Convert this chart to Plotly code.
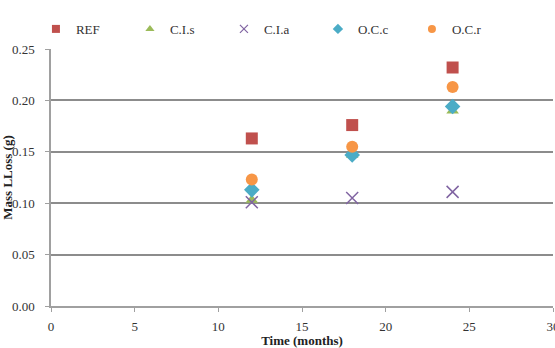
import plotly.graph_objects as go

months = [12, 18, 24]
ref = [0.163, 0.176, 0.232]
cis = [0.103, 0.147, 0.190]
cia = [0.101, 0.105, 0.111]
occ = [0.113, 0.147, 0.194]
ocr = [0.123, 0.155, 0.213]

series = [
    ("REF", ref, "square", "#C0504D", 12),
    ("C.I.s", cis, "triangle-up", "#9BBB59", 11),
    ("C.I.a", cia, "x-thin-open", "#8064A2", 12),
    ("O.C.c", occ, "diamond", "#4BACC6", 12),
    ("O.C.r", ocr, "circle", "#F79646", 12),
]

fig = go.Figure()
for name, vals, sym, col, sz in series:
    marker = dict(symbol=sym, color=col, size=sz)
    if sym == "x-thin-open":
        marker["line"] = dict(color=col, width=1.5)
    fig.add_trace(go.Scatter(x=months, y=vals, mode="markers", name=name,
                             marker=marker, showlegend=False, legendgroup=name))
# small legend keys
for name, vals, sym, col, sz in series:
    marker = dict(symbol=sym, color=col, size=8)
    if sym == "x-thin-open":
        marker["line"] = dict(color=col, width=1.2)
    fig.add_trace(go.Scatter(x=[None], y=[None], mode="markers", name=name,
                             marker=marker, showlegend=True, legendgroup=name))

font = "Liberation Serif, Times New Roman, serif"
fig.update_layout(
    width=555, height=348,
    margin=dict(l=51, r=2, t=49, b=42, autoexpand=False),
    paper_bgcolor="white", plot_bgcolor="white",
    font=dict(family=font, size=13, color="#333333"),
    showlegend=True,
    legend=dict(orientation="h", x=-0.03, xanchor="left", y=1.078, yanchor="middle",
                entrywidth=49, entrywidthmode="pixels",
                font=dict(family=font, size=13, color="#333333"),
                itemwidth=30, bgcolor="rgba(0,0,0,0)"),
    xaxis=dict(range=[0, 30], tickvals=[0, 5, 10, 15, 20, 25, 30], automargin=False,
               showgrid=False, zeroline=False, showline=True, linecolor="#A0A0A0", linewidth=1.5,
               ticks="outside", ticklen=4, tickcolor="#A0A0A0", ticklabeloverflow="allow",
               ticklabelstandoff=4,
               tickfont=dict(family=font, size=13, color="#333333"),
               title=dict(text="<b>Time (months)</b>", font=dict(family=font, size=13, color="#222222"), standoff=2)),
    yaxis=dict(range=[0, 0.25], tickvals=[0, 0.05, 0.10, 0.15, 0.20, 0.25], tickformat=".2f",
               automargin=False,
               showgrid=True, gridcolor="#8C8C8C", gridwidth=1.5, zeroline=False,
               showline=True, linecolor="#A0A0A0", linewidth=1.5,
               ticks="outside", ticklen=4, tickcolor="#A0A0A0", ticklabelstandoff=8,
               tickfont=dict(family=font, size=13, color="#333333"),
               title=dict(text="<b>Mass LLoss (g)</b>", font=dict(family=font, size=13, color="#222222"), standoff=4)),
)
fig.write_html("out.html")
